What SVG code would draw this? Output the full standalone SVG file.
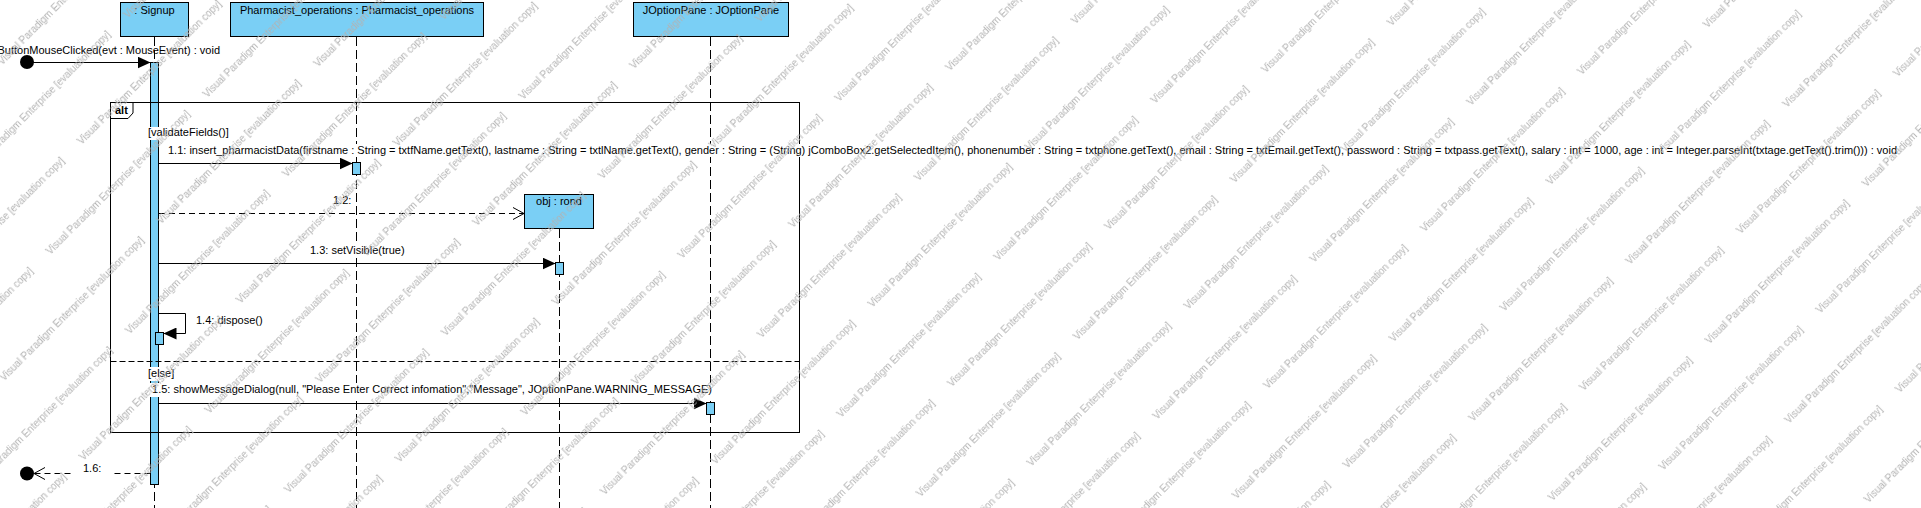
<svg xmlns="http://www.w3.org/2000/svg" width="1921" height="508" viewBox="0 0 1921 508">
<style>
.t{font-family:"Liberation Sans",Arial,sans-serif;font-size:11px;fill:#000}
.b{font-weight:bold}
.box{fill:#7acff5;stroke:#000;stroke-width:1}
.ll{stroke:#000;stroke-width:1;stroke-dasharray:9,4;fill:none}
.ln{stroke:#000;stroke-width:1;fill:none}
.dl{stroke-dasharray:6,4}
.sep{stroke-dasharray:6,3}
.bg{fill:#fff}
.wm{font-family:"Liberation Sans",Arial,sans-serif;font-size:10px;fill:#b2b2b2}
</style>
<defs>
<marker id="fa" markerUnits="userSpaceOnUse" markerWidth="13" markerHeight="12" refX="13" refY="6" orient="auto">
<path d="M0,0 L13,6 L0,12 Z" fill="#000" stroke="none"/>
</marker>
<marker id="oa" markerUnits="userSpaceOnUse" markerWidth="13" markerHeight="14" refX="12" refY="7" orient="auto">
<path d="M1,1 L12,7 L1,13" fill="none" stroke="#000" stroke-width="1" stroke-dasharray="none"/>
</marker>
<pattern id="wmp" patternUnits="userSpaceOnUse" width="222" height="112.4" patternTransform="translate(1150,413) rotate(-45)">
<text class="wm" x="0" y="10">Visual Paradigm Enterprise [evaluation copy]</text>
<text class="wm" x="100" y="66.2">Visual Paradigm Enterprise [evaluation copy]</text>
<text class="wm" x="-122" y="66.2">Visual Paradigm Enterprise [evaluation copy]</text>
</pattern>
</defs>
<rect x="0" y="0" width="1921" height="508" fill="#fff"/>

<g id="lifelines">
<line class="ll" x1="154.5" y1="37" x2="154.5" y2="508"/>
<line class="ll" x1="356.5" y1="37" x2="356.5" y2="508"/>
<line class="ll" x1="710.5" y1="37" x2="710.5" y2="508"/>
<line class="ll" x1="559.5" y1="229" x2="559.5" y2="508"/>
</g>

<g id="signup">
<rect class="box" x="120.5" y="2.5" width="68" height="34"/>
<text class="t" x="154.5" y="14" text-anchor="middle">: Signup</text>
<rect class="box" x="150.5" y="62.5" width="8" height="422"/>
</g>

<g id="pharmacist_operations">
<rect class="box" x="230.5" y="2.5" width="253" height="34"/>
<text class="t" x="357" y="14" text-anchor="middle">Pharmacist_operations : Pharmacist_operations</text>
<rect class="box" x="352.5" y="162.5" width="8" height="12"/>
</g>

<g id="joptionpane">
<rect class="box" x="633.5" y="2.5" width="155" height="34"/>
<text class="t" x="711" y="14" text-anchor="middle">JOptionPane : JOptionPane</text>
<rect class="box" x="706.5" y="402.5" width="8" height="12"/>
</g>

<g id="obj_rond">
<rect class="box" x="524.5" y="194.5" width="69" height="34"/>
<text class="t" x="559" y="205" text-anchor="middle">obj : rond</text>
<rect class="box" x="555.5" y="262.5" width="8" height="12"/>
</g>

<g id="self_activation">
<rect class="box" x="155.5" y="332.5" width="8" height="12"/>
</g>

<g id="alt_frame">
<rect class="ln" x="110.5" y="102.5" width="689" height="330"/>
<path class="ln" d="M110.5,118.5 H128 L133,113 V102.5"/>
<text class="t b" x="115" y="114">alt</text>
<line class="ln sep" x1="110.5" y1="361.5" x2="799.5" y2="361.5"/>
<rect class="bg" x="147" y="127" width="84" height="13"/>
<text class="t" x="148" y="136">[validateFields()]</text>
<rect class="bg" x="147" y="367" width="28" height="14"/>
<text class="t" x="148" y="377">[else]</text>
</g>

<g id="connectors">
<circle cx="27" cy="62" r="7" fill="#000"/>
<line class="ln" x1="27" y1="62.5" x2="150.5" y2="62.5" marker-end="url(#fa)"/>
<text class="t" x="220" y="54" text-anchor="end" textLength="222.5" lengthAdjust="spacingAndGlyphs">ButtonMouseClicked(evt : MouseEvent) : void</text>

<line class="ln" x1="159" y1="163.5" x2="352.5" y2="163.5" marker-end="url(#fa)"/>
<rect class="bg" x="166" y="144" width="1733" height="13"/>
<text class="t" x="168" y="154" textLength="1729" lengthAdjust="spacingAndGlyphs">1.1: insert_pharmacistData(firstname : String = txtfName.getText(), lastname : String = txtlName.getText(), gender : String = (String) jComboBox2.getSelectedItem(), phonenumber : String = txtphone.getText(), email : String = txtEmail.getText(), password : String = txtpass.getText(), salary : int = 1000, age : int = Integer.parseInt(txtage.getText().trim())) : void</text>

<line class="ln dl" x1="159" y1="213.5" x2="524" y2="213.5" marker-end="url(#oa)"/>
<rect class="bg" x="331" y="194" width="23" height="13"/>
<text class="t" x="333" y="204">1.2:</text>

<line class="ln" x1="159" y1="263.5" x2="555.5" y2="263.5" marker-end="url(#fa)"/>
<rect class="bg" x="308" y="244" width="98" height="13"/>
<text class="t" x="310" y="254">1.3: setVisible(true)</text>

<path class="ln" d="M159,313.5 H185.5 V333.5 H163.5" marker-end="url(#fa)"/>
<text class="t" x="196" y="324">1.4: dispose()</text>

<line class="ln" x1="159" y1="403.5" x2="706.5" y2="403.5" marker-end="url(#fa)"/>
<rect class="bg" x="150" y="383" width="564" height="14"/>
<text class="t" x="152" y="393" textLength="560" lengthAdjust="spacingAndGlyphs">1.5: showMessageDialog(null, "Please Enter Correct infomation","Message", JOptionPane.WARNING_MESSAGE)</text>

<circle cx="27" cy="473.5" r="7" fill="#000"/>
<line class="ln dl" x1="150.5" y1="473.5" x2="34" y2="473.5" marker-end="url(#oa)"/>
<rect class="bg" x="73" y="462" width="41" height="14"/>
<text class="t" x="83" y="472">1.6:</text>
</g>

<rect x="0" y="0" width="1921" height="508" fill="url(#wmp)"/>
</svg>
